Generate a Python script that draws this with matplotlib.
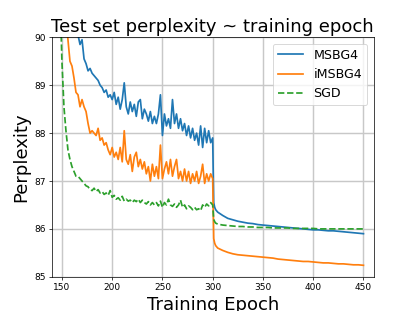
import matplotlib
matplotlib.use("Agg")
import matplotlib.pyplot as plt

# epochs before the lr drop (every 2nd epoch) and after it
epochs_pre = list(range(148, 301, 2))
epochs_post = [301, 302, 303] + list(range(305, 451, 5))

msbg4_pre = [
    92.8, 92.5, 92.2, 91.9, 91.6, 91.2, 90.9, 90.6, 90.3, 90.05,
    89.85, 89.95, 89.55, 89.45, 89.3, 89.35, 89.25, 89.2, 89.15, 89.1,
    89.0, 88.95, 88.85, 88.9, 88.75, 88.8, 88.7, 88.85, 88.6, 88.75,
    88.5, 88.7, 89.05, 88.55, 88.4, 88.65, 88.45, 88.6, 88.35, 88.65,
    88.7, 88.3, 88.5, 88.4, 88.25, 88.45, 88.2, 88.35, 88.2, 88.4,
    88.8, 87.95, 88.4, 88.15, 88.3, 88.1, 88.7, 88.2, 88.4, 88.1,
    88.3, 88.05, 88.2, 87.95, 88.15, 87.9, 88.1, 87.85, 88.0, 87.75,
    88.15, 87.7, 88.1, 87.8, 88.05, 87.8, 87.9,
]
msbg4_post = [
    86.55, 86.45, 86.4,
    86.35, 86.28, 86.22, 86.19, 86.16, 86.14, 86.12, 86.11, 86.09, 86.08,
    86.07, 86.06, 86.05, 86.04, 86.03, 86.02, 86.01, 86.0, 85.99, 85.98,
    85.98, 85.97, 85.96, 85.96, 85.95, 85.94, 85.93, 85.92, 85.91, 85.9,
]

imsbg4_pre = [
    92.4, 91.8, 91.2, 90.6, 89.95, 89.5, 89.4, 89.15, 88.85, 88.8,
    88.55, 88.7, 88.55, 88.45, 88.2, 88.0, 88.05, 88.0, 87.95, 88.1,
    87.85, 87.9, 87.75, 87.8, 87.65, 87.55, 87.7, 87.5, 87.6, 87.45,
    87.7, 87.4, 88.05, 87.45, 87.35, 87.55, 87.2, 87.5, 87.6, 87.3,
    87.45, 87.25, 87.4, 87.15, 87.3, 87.0, 87.35, 87.1, 87.3, 87.05,
    87.75, 87.05, 87.25, 87.4, 87.15, 87.45, 87.1, 87.3, 87.45, 87.05,
    87.2, 87.0, 87.25, 87.0, 87.2, 86.95, 87.15, 87.0, 87.2, 86.95,
    87.1, 87.35, 86.95, 87.15, 87.0, 87.15, 87.05,
]
imsbg4_post = [
    85.8, 85.7, 85.65,
    85.6, 85.55, 85.51, 85.48, 85.46, 85.45, 85.44, 85.43, 85.42, 85.41,
    85.4, 85.39, 85.37, 85.36, 85.35, 85.34, 85.33, 85.32, 85.32, 85.31,
    85.3, 85.29, 85.29, 85.28, 85.27, 85.27, 85.26, 85.25, 85.25, 85.24,
]

sgd_pre = [
    91.0, 89.5, 88.55, 88.05, 87.65, 87.45, 87.3, 87.2, 87.1, 87.1,
    87.05, 87.0, 86.95, 86.9, 86.88, 86.82, 86.8, 86.85, 86.78, 86.82,
    86.75, 86.78, 86.72, 86.75, 86.7, 86.8, 86.66, 86.7, 86.62, 86.65,
    86.6, 86.68, 86.58, 86.62, 86.58, 86.6, 86.55, 86.6, 86.57, 86.62,
    86.55, 86.6, 86.55, 86.52, 86.57, 86.5, 86.55, 86.5, 86.55, 86.48,
    86.58, 86.45, 86.55, 86.5, 86.62, 86.5, 86.47, 86.52, 86.45, 86.5,
    86.6, 86.45, 86.5, 86.42, 86.48, 86.45, 86.4, 86.45, 86.4, 86.42,
    86.38, 86.5, 86.45, 86.52, 86.48, 86.55, 86.5,
]
sgd_post = [
    86.2, 86.15, 86.12,
    86.1, 86.08, 86.07, 86.06, 86.05, 86.05, 86.04, 86.04, 86.03, 86.03,
    86.03, 86.02, 86.02, 86.02, 86.02, 86.01, 86.01, 86.01, 86.01, 86.01,
    86.0, 86.0, 86.0, 86.0, 86.0, 86.0, 86.0, 86.0, 86.0, 86.0,
]


def main():
    epochs = epochs_pre + epochs_post
    fig, ax = plt.subplots(figsize=(415 / 65, 311 / 65), dpi=65)

    lw = 1.9
    ax.plot(epochs, msbg4_pre + msbg4_post, color="tab:blue", lw=lw, label="MSBG4")
    ax.plot(epochs, imsbg4_pre + imsbg4_post, color="tab:orange", lw=lw, label="iMSBG4")
    ax.plot(epochs, sgd_pre + sgd_post, color="tab:green", lw=lw, linestyle="--", label="SGD")

    ax.set_xlim(140, 460)
    ax.set_ylim(85, 90)
    ax.set_xticks([150, 200, 250, 300, 350, 400, 450])
    ax.set_yticks([85, 86, 87, 88, 89, 90])
    ax.grid(True, color="#c8c8c8", linewidth=1.6)
    ax.set_axisbelow(True)

    ax.set_title("Test set perplexity ~ training epoch", fontsize=20)
    ax.set_xlabel("Training Epoch", fontsize=20)
    ax.set_ylabel("Perplexity", fontsize=20)
    ax.legend(loc="upper right", fontsize=14)

    fig.savefig("out.png", dpi=65)


if __name__ == "__main__":
    main()
